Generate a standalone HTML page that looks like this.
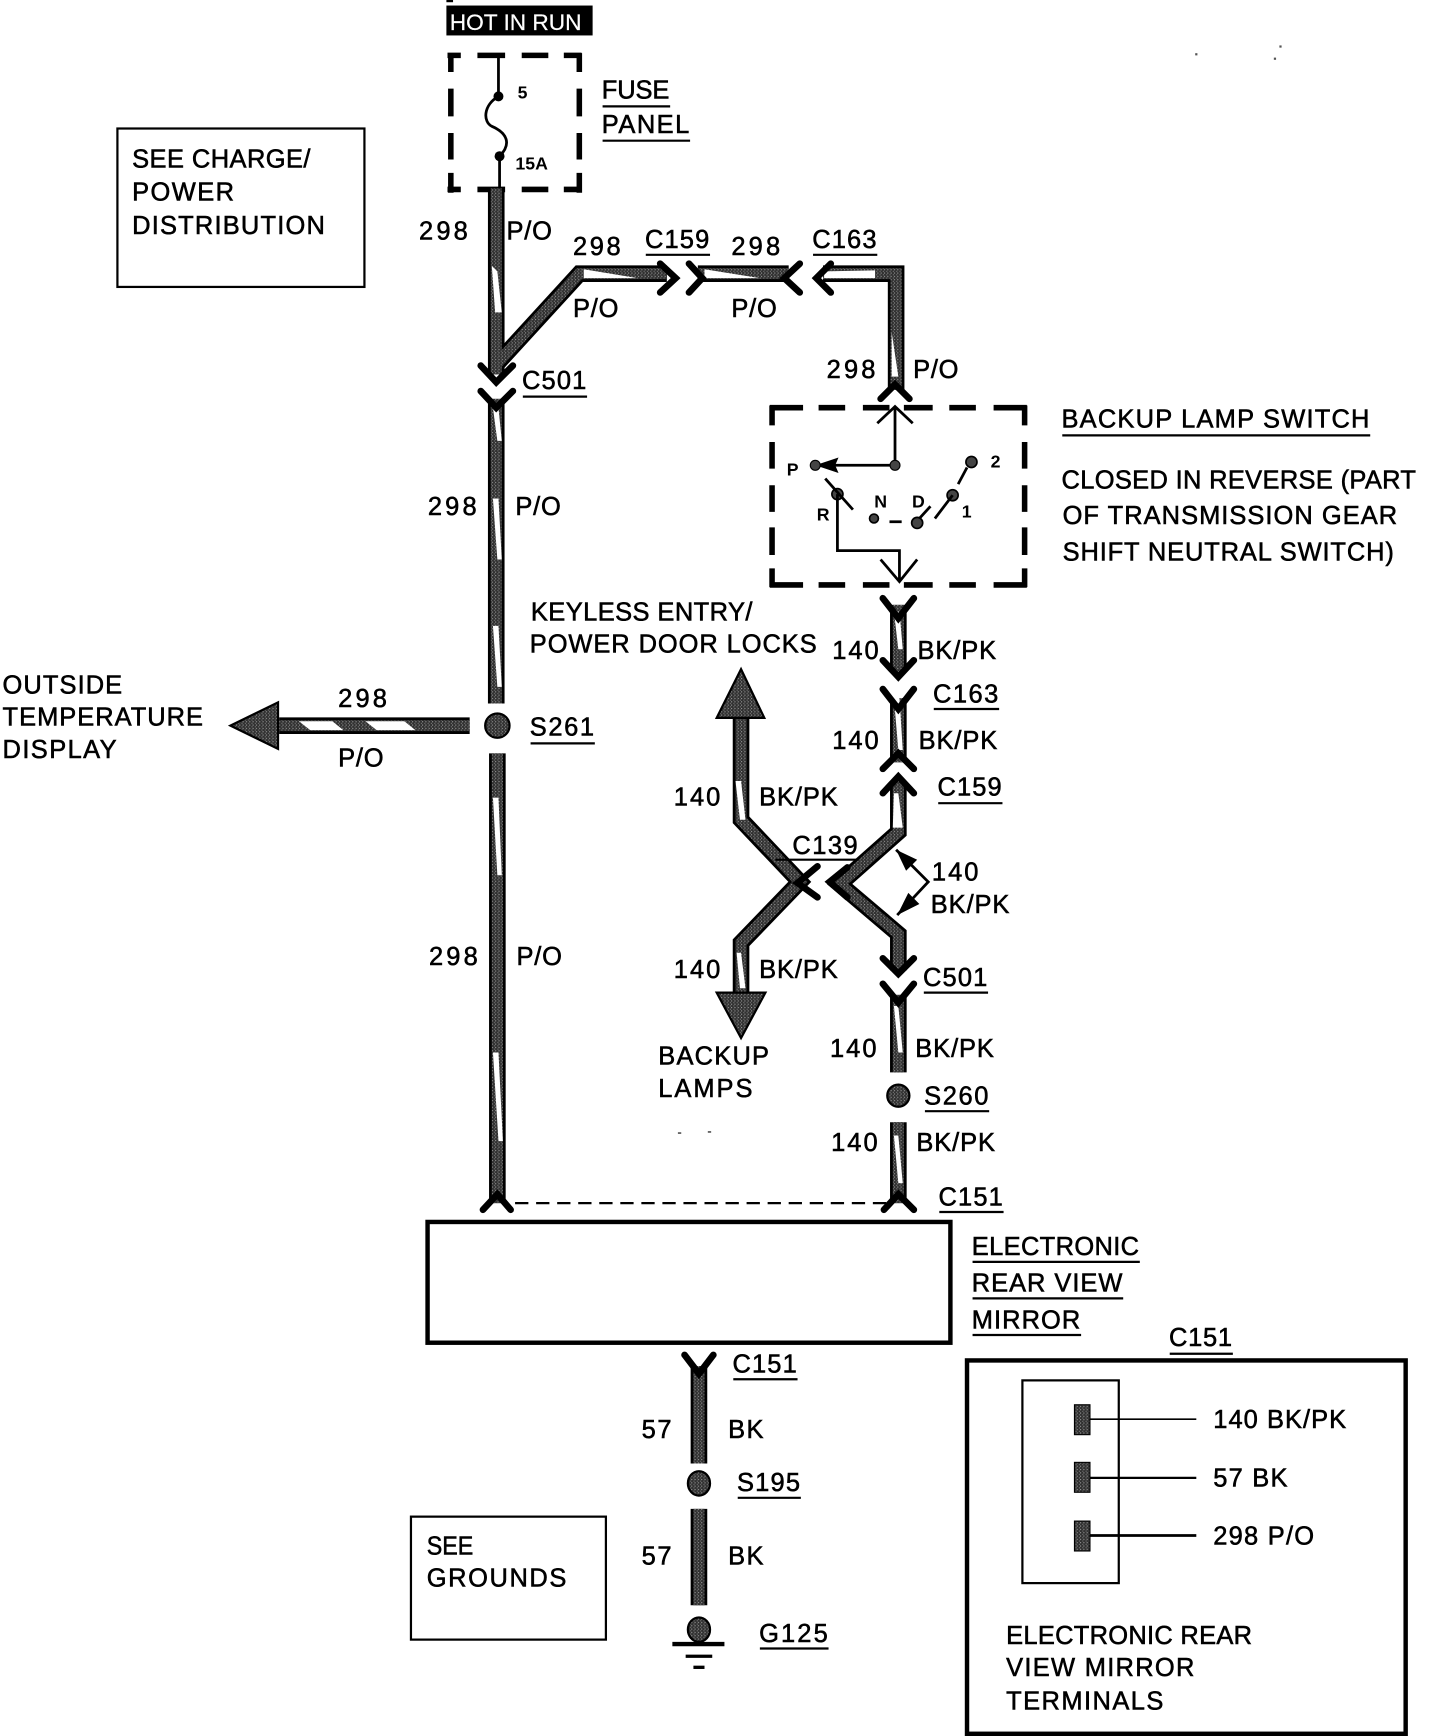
<!DOCTYPE html>
<html><head><meta charset="utf-8"><title>Electronic rear view mirror wiring</title>
<style>
html,body{margin:0;padding:0;background:#fff;width:1440px;height:1736px;overflow:hidden}
svg{display:block}
text{font-family:"Liberation Sans",sans-serif;font-size:23px;fill:#000;stroke:#000;stroke-width:.5px;transform:translate(-.7px,-1px)}
.s{font-size:16px;font-weight:bold;stroke-width:0}
.w{fill:none;stroke-linejoin:miter;stroke-linecap:butt}
.c{fill:none;stroke:#000;stroke-width:6;stroke-linecap:round;stroke-linejoin:miter}
.t{fill:none;stroke:#000;stroke-width:2.5}
.u{stroke:#000;stroke-width:2;fill:none}
.d{fill:none;stroke:#000;stroke-width:5}
.sl{fill:#fff;stroke:none}
</style></head><body>
<svg width="1440" height="1736" viewBox="0 0 1300 1567" xmlns="http://www.w3.org/2000/svg" preserveAspectRatio="none">
<defs>
<pattern id="st" width="3" height="3" patternUnits="userSpaceOnUse"><rect width="3" height="3" fill="#303030"/><rect x="0" y="0" width="1" height="1" fill="#999"/><rect x="2" y="1.5" width="1" height="1" fill="#777"/></pattern>
<g id="wires">
<path d="M448 170V338"/>
<path d="M447 330L523 247H602"/>
<path d="M630 247H712"/>
<path d="M743 247H809V352"/>
<path d="M448 360V635"/>
<path d="M449 680V1086"/>
<path d="M252 655H424"/>
<path d="M811 546V606"/>
<path d="M811 630V688"/>
<path d="M811 706V751L758 798L811 843V876"/>
<path d="M669 640V740L722 796L669 851V905"/>
<path d="M811 898V968"/>
<path d="M811 1013V1086"/>
<path d="M631 1233V1321"/>
<path d="M631 1362V1449"/>
</g>
</defs>

<!-- stray marks -->
<g fill="#555">
<rect x="1079" y="48" width="2" height="2"/><rect x="1155" y="41" width="2" height="2"/><rect x="1150" y="52" width="2" height="2"/>
<rect x="612" y="1022" width="3" height="1.5"/><rect x="639" y="1021" width="3" height="1.5"/>
<rect x="403" y="0" width="6" height="2" fill="#000"/>
</g>

<!-- fuse -->
<rect x="403" y="5" width="132" height="27" fill="#000"/>
<text x="406" y="27" textLength="119" lengthAdjust="spacingAndGlyphs" style="font-size:20px;fill:#fff;stroke:#fff;stroke-width:.2px;transform:none">HOT IN RUN</text>
<path class="d" d="M404 50H416M431 50H456M471 50H495M509 50H525M407 48V65M407 80V105M407 120V144M407 156V174M523 48V65M523 80V105M523 120V144M523 156V174M404 171H416M431 171H456M471 171H495M509 171H525"/>
<path class="t" d="M450 50V87M450 87C436 95 436 110 444 114C458 120 462 130 451 141M451 141V172"/>
<circle cx="450" cy="87" r="4.5"/><circle cx="451" cy="141" r="4.5"/>
<text class="s" x="468" y="90">5</text>
<text class="s" x="466" y="154">15A</text>
<text x="544" y="90" textLength="61">FUSE</text><path class="u" d="M544 96H605"/>
<text x="544" y="121" textLength="79">PANEL</text><path class="u" d="M544 127H623"/>

<!-- boxes -->
<rect x="106" y="116" width="223" height="143" fill="none" stroke="#000" stroke-width="2"/>
<text x="120" y="152" textLength="161">SEE CHARGE/</text>
<text x="120" y="182" textLength="92">POWER</text>
<text x="120" y="212" textLength="174">DISTRIBUTION</text>

<!-- wires -->
<use href="#wires" class="w" stroke="#000" stroke-width="15"/>
<use href="#wires" class="w" stroke="url(#st)" stroke-width="10"/>
<!-- slivers -->
<g class="sl">
<polygon points="444,240 449,245 453,282 447,282"/>
<polygon points="527,243 575,251 527,251"/>
<polygon points="636,243 686,251 636,251"/>
<polygon points="744,245 790,244 790,251 744,251"/>
<polygon points="805,300 811,340 805,340"/>
<polygon points="445,368 450,368 453,398 449,398"/>
<polygon points="445,450 450,450 453,505 449,505"/>
<polygon points="445,565 450,565 453,620 449,620"/>
<polygon points="445,720 450,720 453,790 449,790"/>
<polygon points="445,950 450,950 454,1030 450,1030"/>
<polygon points="330,651 365,651 375,659 340,659"/>
<polygon points="270,651 300,651 310,659 280,659"/>
<polygon points="807,552 812,552 815,586 811,586"/>
<polygon points="807,630 812,630 815,677 811,677"/>
<polygon points="807,716 811,716 815,747 806,747"/>
<polygon points="664,705 669,705 673,740 668,740"/>
<polygon points="665,860 669,860 673,892 668,892"/>
<polygon points="807,908 811,908 815,950 811,950"/>
<polygon points="807,1025 811,1025 815,1068 811,1068"/>
</g>

<!-- chevrons -->
<path class="c" d="M434 330L448 345L463 330M434 353L448 368L463 353"/>
<path class="c" d="M596 238L610 251L596 264M622 238L634 251L622 264M722 238L708 251L722 264M750 238L737 251L750 264"/>
<path class="c" d="M795 360L808 347L821 360"/>
<path class="c" d="M797 540L811 558L825 540M797 596L811 611L825 596M797 622L811 640L825 622M797 694L811 680L825 694"/>
<path class="c" d="M797 716L811 701L825 716M797 865L811 879L825 865"/>
<path class="c" d="M738 782L720 797L738 810M765 783L749 796L765 810"/>
<path class="c" d="M797 888L811 905L825 888"/>
<path class="c" d="M436 1092L449 1078L461 1092M798 1092L811 1078L825 1092"/>
<path class="c" d="M618 1223L631 1240L644 1223"/>

<!-- arrows -->
<polygon points="208,655 251,634 251,676" fill="url(#st)" stroke="#000" stroke-width="2"/>
<polygon points="669,604 647,648 690,648" fill="url(#st)" stroke="#000" stroke-width="2"/>
<polygon points="647,896 691,896 669,937" fill="url(#st)" stroke="#000" stroke-width="2"/>

<!-- splices -->
<circle cx="449" cy="655" r="11" fill="url(#st)" stroke="#000" stroke-width="2"/>
<circle cx="811" cy="989" r="10" fill="url(#st)" stroke="#000" stroke-width="2"/>
<ellipse cx="631" cy="1339" rx="10" ry="11" fill="url(#st)" stroke="#000" stroke-width="2"/>
<ellipse cx="631" cy="1471" rx="10" ry="11" fill="url(#st)" stroke="#000" stroke-width="2"/>
<path d="M607 1484H654" stroke="#000" stroke-width="4"/>
<path d="M619 1495H643" stroke="#000" stroke-width="3"/>
<path d="M626 1505H636" stroke="#000" stroke-width="3"/>

<!-- wire labels -->
<text x="379" y="217" textLength="44">298</text><text x="458" y="217" textLength="41">P/O</text>
<text x="518" y="231" textLength="43">298</text><text x="518" y="287" textLength="41">P/O</text>
<text x="583" y="225" textLength="58">C159</text><path class="u" d="M583 230H641"/>
<text x="661" y="231" textLength="44">298</text><text x="661" y="287" textLength="41">P/O</text>
<text x="734" y="225" textLength="58">C163</text><path class="u" d="M734 230H792"/>
<text x="747" y="342" textLength="44">298</text><text x="825" y="342" textLength="41">P/O</text>
<text x="472" y="352" textLength="58">C501</text><path class="u" d="M472 358H530"/>
<text x="387" y="466" textLength="44">298</text><text x="466" y="466" textLength="41">P/O</text>
<text x="3" y="627" textLength="108">OUTSIDE</text>
<text x="3" y="656" textLength="181">TEMPERATURE</text>
<text x="3" y="685" textLength="103">DISPLAY</text>
<text x="306" y="639" textLength="44">298</text><text x="306" y="693" textLength="41">P/O</text>
<text x="479" y="665" textLength="58">S261</text><path class="u" d="M479 671H537"/>
<text x="388" y="872" textLength="44">298</text><text x="467" y="872" textLength="41">P/O</text>

<!-- backup switch -->
<path class="d" d="M695 368H725M739 368H763M779 368H803M816 368H842M857 368H881M897 368H927M697 366V384M697 399V423M697 438V462M697 476V501M697 513V530M925 366V384M925 399V423M925 438V462M925 476V501M925 513V530M695 528H725M739 528H763M779 528H803M816 528H842M857 528H881M897 528H927"/>
<path class="t" d="M808 420V367M792 382L808 367L824 382"/>
<path class="t" d="M808 420L740 420"/>
<polygon points="736,420 757,413 754,420 757,427" fill="#000"/>
<circle cx="808" cy="420" r="4.5" fill="#444" stroke="#000"/>
<circle cx="736" cy="420" r="4.5" fill="#444" stroke="#000"/>
<circle cx="756" cy="446" r="5" fill="#444" stroke="#000" stroke-width="1.5"/>
<path class="t" d="M745 432L770 460M756 446V497H812V525M795 505L812 525L828 505"/>
<circle cx="789" cy="468" r="4" fill="#444" stroke="#000" stroke-width="1.5"/>
<circle cx="828" cy="472" r="5" fill="#444" stroke="#000" stroke-width="1.5"/>
<circle cx="860" cy="447" r="5" fill="#444" stroke="#000" stroke-width="1.5"/>
<circle cx="877" cy="417" r="5" fill="#444" stroke="#000" stroke-width="1.5"/>
<path class="t" d="M803 471H814M830 468L840 457M844 468L860 447M865 437L873 422"/>
<text class="s" x="711" y="430">P</text><text class="s" x="738" y="471">R</text>
<text class="s" x="790" y="459">N</text><text class="s" x="824" y="459">D</text>
<text class="s" x="895" y="423">2</text><text class="s" x="869" y="468">1</text>
<text x="959" y="387" textLength="278">BACKUP LAMP SWITCH</text><path class="u" d="M959 393H1237"/>
<text x="959" y="442" textLength="320">CLOSED IN REVERSE (PART</text>
<text x="960" y="474" textLength="302">OF TRANSMISSION GEAR</text>
<text x="960" y="507" textLength="299">SHIFT NEUTRAL SWITCH)</text>

<text x="752" y="596" textLength="42">140</text><text x="829" y="596" textLength="71">BK/PK</text>
<text x="843" y="635" textLength="59">C163</text><path class="u" d="M843 640H902"/>
<text x="752" y="677" textLength="42">140</text><text x="830" y="677" textLength="71">BK/PK</text>
<text x="847" y="719" textLength="58">C159</text><path class="u" d="M847 725H905"/>
<text x="480" y="561" textLength="200">KEYLESS ENTRY/</text>
<text x="479" y="590" textLength="259">POWER DOOR LOCKS</text>
<text x="609" y="728" textLength="42">140</text><text x="686" y="728" textLength="71">BK/PK</text>
<text x="716" y="772" textLength="59">C139</text><path class="u" d="M700 776H775"/>
<text x="842" y="796" textLength="42">140</text><text x="841" y="825" textLength="71">BK/PK</text>
<path class="t" d="M809 767L838 796L810 826" stroke-width="2"/>
<polygon points="809,767 828,776 818,786" fill="#000"/>
<polygon points="810,826 820,806 830,816" fill="#000"/>
<text x="609" y="884" textLength="42">140</text><text x="686" y="884" textLength="71">BK/PK</text>
<text x="595" y="962" textLength="100">BACKUP</text>
<text x="595" y="991" textLength="85">LAMPS</text>
<text x="834" y="891" textLength="58">C501</text><path class="u" d="M834 896H892"/>
<text x="750" y="955" textLength="42">140</text><text x="827" y="955" textLength="71">BK/PK</text>
<text x="835" y="998" textLength="58">S260</text><path class="u" d="M835 1003H893"/>
<text x="751" y="1040" textLength="42">140</text><text x="828" y="1040" textLength="71">BK/PK</text>
<text x="848" y="1089" textLength="58">C151</text><path class="u" d="M848 1094H906"/>

<path d="M465 1086H800" stroke="#000" stroke-width="2" stroke-dasharray="12 7" fill="none"/>

<!-- mirror -->
<rect x="386" y="1103" width="472" height="109" fill="none" stroke="#000" stroke-width="4"/>
<text x="878" y="1134" textLength="151">ELECTRONIC</text><path class="u" d="M878 1139H1029"/>
<text x="878" y="1167" textLength="136">REAR VIEW</text><path class="u" d="M878 1172H1014"/>
<text x="878" y="1200" textLength="98">MIRROR</text><path class="u" d="M878 1205H976"/>

<text x="662" y="1240" textLength="58">C151</text><path class="u" d="M662 1245H720"/>
<text x="580" y="1299" textLength="27">57</text><text x="658" y="1299" textLength="32">BK</text>
<text x="666" y="1347" textLength="57">S195</text><path class="u" d="M666 1352H723"/>
<text x="580" y="1413" textLength="27">57</text><text x="658" y="1413" textLength="32">BK</text>
<text x="686" y="1483" textLength="62">G125</text><path class="u" d="M686 1488H748"/>
<rect x="371" y="1369" width="176" height="111" fill="none" stroke="#000" stroke-width="2"/>
<text x="386" y="1404" textLength="42" lengthAdjust="spacingAndGlyphs">SEE</text>
<text x="386" y="1433" textLength="126">GROUNDS</text>

<!-- terminal view -->
<text x="1056" y="1216" textLength="57">C151</text><path class="u" d="M1056 1222H1113"/>
<rect x="873" y="1228" width="396" height="337" fill="none" stroke="#000" stroke-width="4"/>
<rect x="923" y="1246" width="87" height="183" fill="none" stroke="#000" stroke-width="2"/>
<rect x="970" y="1268" width="14" height="27" fill="url(#st)" stroke="#000"/>
<rect x="970" y="1320" width="14" height="27" fill="url(#st)" stroke="#000"/>
<rect x="970" y="1373" width="14" height="27" fill="url(#st)" stroke="#000"/>
<path d="M984 1281H1080" stroke="#000" stroke-width="1.5"/>
<path d="M984 1334H1080" stroke="#000" stroke-width="2"/>
<path d="M984 1386H1080" stroke="#000" stroke-width="2.5"/>
<text x="1096" y="1290" textLength="120">140 BK/PK</text>
<text x="1096" y="1343" textLength="67">57 BK</text>
<text x="1096" y="1395" textLength="91">298 P/O</text>
<text x="909" y="1485" textLength="222">ELECTRONIC REAR</text>
<text x="909" y="1514" textLength="170">VIEW MIRROR</text>
<text x="909" y="1544" textLength="142">TERMINALS</text>
</svg>
</body></html>
